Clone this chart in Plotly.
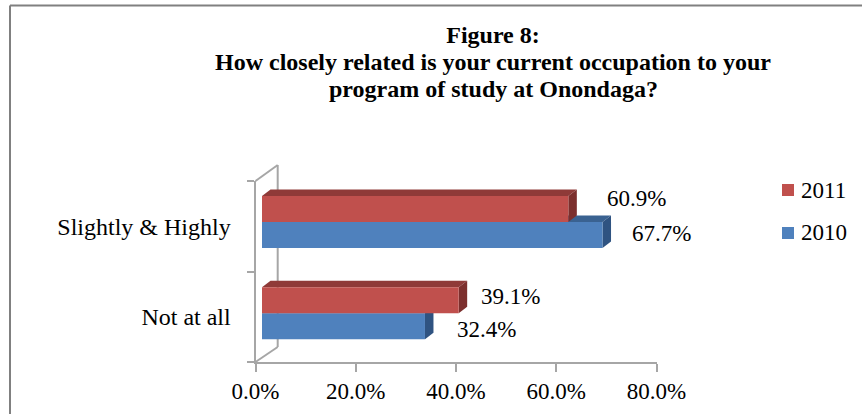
import plotly.graph_objects as go

categories = ["Not at all", "Slightly & Highly"]
values_2010 = [32.4, 67.7]
values_2011 = [39.1, 60.9]
x_ticks = [0, 20, 40, 60, 80]
x_tick_labels = ["0.0%", "20.0%", "40.0%", "60.0%", "80.0%"]
title_lines = [
    "Figure 8:",
    "How closely related is your current occupation to your",
    "program of study at Onondaga?",
]

W, H = 862, 414
FONT = "Liberation Serif"
GREY = "#a6a6a6"
BAR_GAP = 0.43
half = (1 - BAR_GAP) / 2

# pixels per data unit on the bar axes, used for the fake 3d depth
PX_X = 5.03
PX_Y = 91.3
DX = 8.5 / PX_X
DY = 6.5 / PX_Y


def px(x):
    return x / W


def py(y):
    return 1 - y / H


def depth_faces(values, low, high, top_color, side_color):
    traces = []
    for i, v in enumerate(values):
        y0, y1 = i + low, i + high
        top = go.Scatter(
            x=[0, v, v + DX, DX, 0],
            y=[y1, y1, y1 + DY, y1 + DY, y1],
            fill="toself", fillcolor=top_color, mode="none",
            xaxis="x2", yaxis="y2", showlegend=False, hoverinfo="skip",
        )
        side = go.Scatter(
            x=[v, v, v + DX, v + DX, v],
            y=[y0, y1, y1 + DY, y0 + DY, y0],
            fill="toself", fillcolor=side_color, mode="none",
            xaxis="x2", yaxis="y2", showlegend=False, hoverinfo="skip",
        )
        traces += [top, side]
    return traces


fig = go.Figure()

# invisible trace so the main axes exist with their ticks and labels
fig.add_trace(go.Bar(y=categories, x=[0, 0], orientation="h", showlegend=False, hoverinfo="skip"))

for t in depth_faces(values_2010, -half, 0, "#3a6291", "#2f5381"):
    fig.add_trace(t)
for t in depth_faces(values_2011, 0, half, "#8f3a38", "#7c2f2d"):
    fig.add_trace(t)

fig.add_trace(go.Bar(
    y=categories, x=values_2010, orientation="h", name="2010",
    marker=dict(color="#4f81bd", line=dict(width=0)),
    xaxis="x3", yaxis="y3", showlegend=False,
))
fig.add_trace(go.Bar(
    y=categories, x=values_2011, orientation="h", name="2011",
    marker=dict(color="#c0504d", line=dict(width=0)),
    xaxis="x3", yaxis="y3", showlegend=False,
))

shapes = [
    # page frame, open on the right and bottom
    dict(type="line", xref="paper", yref="paper", x0=px(10), x1=px(10), y0=py(5.5), y1=py(414),
         line=dict(color="#808080", width=2)),
    dict(type="line", xref="paper", yref="paper", x0=px(10), x1=px(862), y0=py(5.5), y1=py(5.5),
         line=dict(color="#808080", width=2)),
    # back wall of the 3d box
    dict(type="line", xref="paper", yref="paper", layer="below", x0=px(255.5), x1=px(277.7), y0=py(181), y1=py(165),
         line=dict(color=GREY, width=2)),
    dict(type="line", xref="paper", yref="paper", layer="below", x0=px(277.7), x1=px(277.7), y0=py(165), y1=py(347),
         line=dict(color=GREY, width=2)),
    dict(type="line", xref="paper", yref="paper", layer="below", x0=px(255.5), x1=px(277.7), y0=py(362), y1=py(347),
         line=dict(color=GREY, width=2)),
    # legend swatches
    dict(type="rect", xref="paper", yref="paper", x0=px(782), x1=px(794), y0=py(184), y1=py(196),
         fillcolor="#c0504d", line=dict(width=0)),
    dict(type="rect", xref="paper", yref="paper", x0=px(782), x1=px(794), y0=py(227), y1=py(239),
         fillcolor="#4f81bd", line=dict(width=0)),
]

annotations = [
    dict(text="2011", xref="paper", yref="paper", x=px(799), y=py(190), xanchor="left", yanchor="middle",
         showarrow=False, font=dict(size=23)),
    dict(text="2010", xref="paper", yref="paper", x=px(799), y=py(232), xanchor="left", yanchor="middle",
         showarrow=False, font=dict(size=23)),
]

# plotly's line spacing is too wide at this size, so the two long lines are placed on their own
for line, y in zip(title_lines[1:], [62, 89]):
    annotations.append(dict(
        text=f"<b>{line}</b>", xref="paper", yref="paper", x=px(493), y=py(y), xanchor="center",
        yanchor="middle", showarrow=False, font=dict(size=24),
    ))

# value labels sit at uneven distances from the bars in the reference
label_shift_2010 = [(62, -3), (59, 2)]
label_shift_2011 = [(52, 4), (68, 11)]
for i, v in enumerate(values_2010):
    annotations.append(dict(
        text=f"{v:.1f}%", xref="x2", yref="y2", x=v, y=i - half / 2, showarrow=False,
        xshift=label_shift_2010[i][0], yshift=label_shift_2010[i][1], font=dict(size=23),
    ))
for i, v in enumerate(values_2011):
    annotations.append(dict(
        text=f"{v:.1f}%", xref="x2", yref="y2", x=v, y=i + half / 2, showarrow=False,
        xshift=label_shift_2011[i][0], yshift=label_shift_2011[i][1], font=dict(size=23),
    ))

bar_x_domain = [px(262), px(262 + 80 * PX_X)]
bar_y_domain = [py(358.9), py(176.4)]
hidden = dict(visible=False, fixedrange=True)

fig.update_layout(
    width=W,
    height=H,
    autosize=False,
    margin=dict(l=0, r=0, t=0, b=0, autoexpand=False),
    paper_bgcolor="white",
    plot_bgcolor="rgba(0,0,0,0)",
    font=dict(family=FONT, color="black", size=23),
    barmode="group",
    bargap=BAR_GAP,
    bargroupgap=0,
    showlegend=False,
    title=dict(
        text=f"<b>{title_lines[0]}</b>",
        x=493 / W, xanchor="center", y=py(35), yanchor="middle",
        font=dict(family=FONT, size=24, color="black"),
    ),
    xaxis=dict(
        domain=[px(255.5), px(656.5)], range=[0, 80], tickvals=x_ticks, ticktext=x_tick_labels,
        showgrid=False, zeroline=False, showline=True, linecolor=GREY, linewidth=2,
        ticks="outside", ticklen=8, tickwidth=2, tickcolor=GREY, ticklabelstandoff=-1,
        tickfont=dict(size=23),
    ),
    yaxis=dict(
        domain=[py(362), py(181)], type="category", categoryorder="array", categoryarray=categories,
        range=[-0.5, 1.5], tickson="boundaries", showgrid=False, zeroline=False,
        showline=True, linecolor=GREY, linewidth=2,
        ticks="outside", ticklen=7, tickwidth=2, tickcolor=GREY, ticklabelstandoff=18,
        tickfont=dict(size=24),
    ),
    # overlaying an axis would force its domain, so only the third pair overlays the second
    xaxis2=dict(domain=bar_x_domain, range=[0, 80], anchor="y2", **hidden),
    yaxis2=dict(domain=bar_y_domain, range=[-0.5, 1.5], anchor="x2", **hidden),
    xaxis3=dict(domain=bar_x_domain, range=[0, 80], anchor="y3", overlaying="x2", **hidden),
    yaxis3=dict(domain=bar_y_domain, range=[-0.5, 1.5], type="category", categoryorder="array",
                categoryarray=categories, anchor="x3", overlaying="y2", **hidden),
    shapes=shapes,
    annotations=annotations,
)

fig.write_html(
    "out.html",
    config={"displayModeBar": False},
    post_script="document.body.style.margin='0';document.body.style.overflow='hidden';",
)
